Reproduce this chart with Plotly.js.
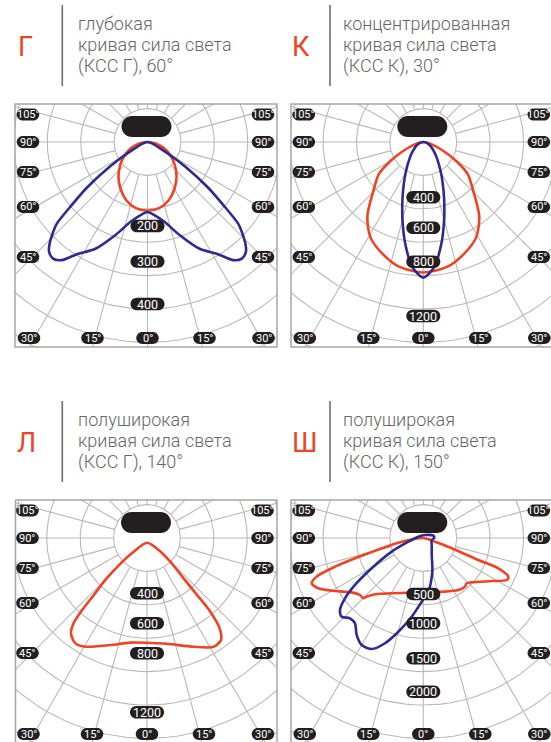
<!DOCTYPE html>
<html><head><meta charset="utf-8">
<script src="https://cdn.plot.ly/plotly-3.0.1.min.js"></script>
<style>html,body{margin:0;padding:0;background:#fff}#chart{width:551px;height:742px}</style>
</head><body><div id="chart"></div>
<script>
// ---------- DATA (angle in degrees from nadir, left side negative; intensity in cd) ----------
// Panel Г (symmetric half-curves, 0..90)
const g_theta_red  = [0,10,20,30,40,50,60,70,80,90];
const g_red        = [172,168,155,135,113,89,66,43,21,0];
const g_theta_blue = [0,6,12,19,26,32,36,39,42,44,46,48,50,53,57,61,65];
const g_blue       = [175,185,204,246,297,330,365,375,368,352,330,305,252,190,112,50,0];
// Panel К (symmetric half-curves)
const k_theta_red  = [0,11,20,29,37,46,54,60,66,73,80,90];
const k_red        = [900,876,821,752,641,476,380,262,152,69,21,0];
const k_theta_blue = [0,5,10,15,20,25,30,40,50,60,70,80,90];
const k_blue       = [935,865,715,555,420,318,243,147,92,58,34,16,0];
// Panel Л (full closed path)
const l_theta_red  = [0,-44,-46,-45,-43,-42,-40.7,-38.6,-34.2,-29.6,-18.9,-9.1,0,10.7,23.2,31.5,36,38.8,40.7,41.3,42.2,44.5,44,0];
const l_red        = [34,137,263,406,558,693,804,871,910,893,808,757,748,769,845,911,900,828,694,541,389,237,119,34];
// Panel Ш (full closed paths)
const sh_theta_red = [-90,-80.3,-74.5,-72,-70.1,-67.9,-64.4,-59,-52.8,-48,-44.9,-44,-39.8,-29.7,-15.3,1.8,18.9,33.9,40.6,43.8,47.5,57.8,63.3,65.5,68,68.2,70.1,72.4,90];
const sh_red       = [0,274,714,1160,1418,1505,1455,1288,1124,1065,1064,1019,911,796,709,679,710,784,801,784,820,1010,1168,1168,1011,740,378,154,0];
const sh_theta_blue= [-104.6,150.5,103,91.6,76.6,45,26.3,15,5.3,-1.4,-8.4,-14.9,-20,-24.9,-29.9,-34.5,-38.7,-42.4,-46,-49.2,-52.4,-55.5,-59.6,-66.6,-76.1,-104.6];
const sh_blue      = [65,43,129,138,108,150,238,436,674,796,995,1213,1400,1530,1544,1471,1366,1359,1418,1376,1235,1036,748,430,193,65];
// Tick labels
const g_rlabels  = ['200','300','400'];
const k_rlabels  = ['400','600','800','1200'];
const l_rlabels  = ['400','600','800','1200'];
const sh_rlabels = ['500','1000','1500','2000'];
const sideLabels   = ['105°','90°','75°','60°','45°'];
const bottomLabels = ['30°','15°','0°','15°','30°'];
const letters = ['Г','К','Л','Ш'];
const titles = [
  ['глубокая','кривая сила света','(КСС Г), 60°'],
  ['концентрированная','кривая сила света','(КСС К), 30°'],
  ['полуширокая','кривая сила света','(КСС Г), 140°'],
  ['полуширокая','кривая сила света','(КСС К), 150°']
];

// ---------- LAYOUT CONSTANTS ----------
const W = 551, H = 742;
const RED = '#ef4423', BLUE = '#2e2b8f', PILL = '#231f20', GRID = '#b9b9b9';
const RING = 33.4;
const panels = [
  {cx:147.5, cy:142, l:15, r:277, t:104, b:347, k:0.40, rl:g_rlabels, rlPos:[84,119.5,162],
   curves:[{th:g_theta_red,v:g_red,c:RED,m:true},{th:g_theta_blue,v:g_blue,c:BLUE,m:true}],
   letterXY:[25,46.5], divX:62.3, divY:[5,86], textX:75.5, lineY:[23.1,44.5,65.8]},
  {cx:423.3, cy:142, l:291, r:554, t:104, b:347, k:0.145, rl:k_rlabels, rlPos:[55.3,85.7,119.7,174],
   curves:[{th:k_theta_red,v:k_red,c:RED,m:true},{th:k_theta_blue,v:k_blue,c:BLUE,m:true}],
   letterXY:[300.5,46.5], divX:330, divY:[5,86], textX:341, lineY:[23.1,44.5,65.8]},
  {cx:147, cy:538, l:15.5, r:277, t:500, b:743, k:0.14, rl:l_rlabels, rlPos:[55.3,85.3,115.3,174.3],
   curves:[{th:l_theta_red,v:l_red,c:RED,m:false}],
   letterXY:[26.5,442.5], divX:62.3, divY:[401,482], textX:75.5, lineY:[419.1,440.5,461.8]},
  {cx:423.3, cy:538, l:291, r:554, t:500, b:743, k:0.08, rl:sh_rlabels, rlPos:[56,85.3,120.3,153.7],
   curves:[{th:sh_theta_red,v:sh_red,c:RED,m:false},{th:sh_theta_blue,v:sh_blue,c:BLUE,m:false}],
   letterXY:[304.5,442.5], divX:330, divY:[401,482], textX:341, lineY:[419.1,440.5,461.8]}
];
const sidePos = [-27.5,0,30,65,115], sideX = [-119.5,115.5];
const bottomPos = [-118.5,-55,0,57,116], bottomY = 196;

const PX = x => x/W, PY = y => 1 - y/H;
function pillPath(cx, cy, w, h) {
  const R = h/2, c = 0.5523*R;
  const x0 = cx - w/2 + R, x1 = cx + w/2 - R, top = cy - R, bot = cy + R;
  const P = (x,y) => PX(x).toFixed(5)+','+PY(y).toFixed(5);
  return `M${P(x0,top)} L${P(x1,top)} C${P(x1+c,top)} ${P(x1+R,cy-c)} ${P(x1+R,cy)} C${P(x1+R,cy+c)} ${P(x1+c,bot)} ${P(x1,bot)} L${P(x0,bot)} C${P(x0-c,bot)} ${P(x0-R,cy+c)} ${P(x0-R,cy)} C${P(x0-R,cy-c)} ${P(x0-c,top)} ${P(x0,top)} Z`;
}
const rad = d => d*Math.PI/180;

const traces = [], shapes = [], annotations = [];
const layout = {width:W, height:H, margin:{l:0,r:0,t:0,b:0}, showlegend:false,
  paper_bgcolor:'#fff', plot_bgcolor:'rgba(0,0,0,0)', hovermode:false,
  font:{family:'Roboto, sans-serif'}};

panels.forEach((p, i) => {
  const n = i===0 ? '' : String(i+1);
  const xa = 'x'+n, ya = 'y'+n;
  const right = Math.min(p.r, W), bottom = Math.min(p.b, H);
  layout['xaxis'+n] = {domain:[PX(p.l), PX(right)], range:[(p.l-p.cx)/p.k, (right-p.cx)/p.k],
    visible:false, fixedrange:true, anchor:ya};
  layout['yaxis'+n] = {domain:[PY(bottom), PY(p.t)], range:[(p.cy-bottom)/p.k, (p.cy-p.t)/p.k],
    visible:false, fixedrange:true, anchor:xa};
  // grid rings
  const gx = [], gy = [];
  for (let ring = 1; ring <= 9; ring++) {
    const R = ring*RING/p.k;
    for (let a = 0; a <= 360; a += 3) { gx.push(R*Math.sin(rad(a))); gy.push(-R*Math.cos(rad(a))); }
    gx.push(null); gy.push(null);
  }
  // spokes
  for (let a = 0; a < 360; a += 15) {
    const r0 = RING/p.k, r1 = 320/p.k;
    gx.push(r0*Math.sin(rad(a)), r1*Math.sin(rad(a)), null);
    gy.push(-r0*Math.cos(rad(a)), -r1*Math.cos(rad(a)), null);
  }
  traces.push({type:'scatter', mode:'lines', x:gx, y:gy, xaxis:xa, yaxis:ya,
    line:{color:GRID, width:1.1}, hoverinfo:'skip'});
  // curves
  p.curves.forEach(cv => {
    let th = cv.th.slice(), v = cv.v.slice();
    if (cv.m) {
      const th2 = [], v2 = [];
      for (let j = th.length-1; j >= 1; j--) { th2.push(-th[j]); v2.push(v[j]); }
      th = th2.concat(th); v = v2.concat(v);
    }
    traces.push({type:'scatter', mode:'lines', xaxis:xa, yaxis:ya,
      x: th.map((t,j) => v[j]*Math.sin(rad(t))),
      y: th.map((t,j) => -v[j]*Math.cos(rad(t))),
      line:{color:cv.c, width:2.6, shape:'spline', smoothing:0.8}, hoverinfo:'skip'});
  });
  // frame
  shapes.push({type:'rect', xref:'paper', yref:'paper', x0:PX(p.l), x1:PX(p.r), y0:PY(p.b), y1:PY(p.t),
    line:{color:'#a6a6a6', width:1.5}, fillcolor:'rgba(0,0,0,0)', layer:'above'});
  // lamp
  shapes.push({type:'path', xref:'paper', yref:'paper', path:pillPath(p.cx-1, p.cy-15.5, 50, 21),
    fillcolor:PILL, line:{width:0}, layer:'above'});
  // angle labels
  const lbl = (x, y, txt, w, h, size) => {
    shapes.push({type:'path', xref:'paper', yref:'paper', path:pillPath(x, y, w, h),
      fillcolor:PILL, line:{width:0}, layer:'above'});
    annotations.push({xref:'paper', yref:'paper', x:PX(x), y:PY(y), text:txt, showarrow:false,
      xanchor:'center', yanchor:'middle', font:{color:'#fff', size:size, family:'Roboto, sans-serif'}});
  };
  sideLabels.forEach((t, j) => {
    lbl(p.cx+sideX[0], p.cy+sidePos[j], t, 22.5, 12, 11);
    lbl(p.cx+sideX[1], p.cy+sidePos[j], t, 22.5, 12, 11);
  });
  bottomLabels.forEach((t, j) => lbl(p.cx+bottomPos[j], p.cy+bottomY, t, 22.5, 12, 11));
  p.rl.forEach((t, j) => lbl(p.cx, p.cy+p.rlPos[j], t, 34, 12.5, 12.5));
  // header
  annotations.push({xref:'paper', yref:'paper', x:PX(p.letterXY[0]), y:PY(p.letterXY[1]), text:letters[i],
    showarrow:false, xanchor:'center', yanchor:'middle', font:{color:RED, size:27, family:'Roboto, sans-serif'}});
  shapes.push({type:'line', xref:'paper', yref:'paper', x0:PX(p.divX), x1:PX(p.divX), y0:PY(p.divY[0]), y1:PY(p.divY[1]),
    line:{color:'#6d6d6d', width:1.6}});
  titles[i].forEach((t, j) => annotations.push({xref:'paper', yref:'paper', x:PX(p.textX), y:PY(p.lineY[j]), text:t,
    showarrow:false, xanchor:'left', yanchor:'middle',
    font:{color:'#666666', size:18, family:'Roboto, sans-serif', weight:300}}));
});
layout.shapes = shapes;
layout.annotations = annotations;
Plotly.newPlot('chart', traces, layout, {staticPlot:true, displayModeBar:false});
</script></body></html>
